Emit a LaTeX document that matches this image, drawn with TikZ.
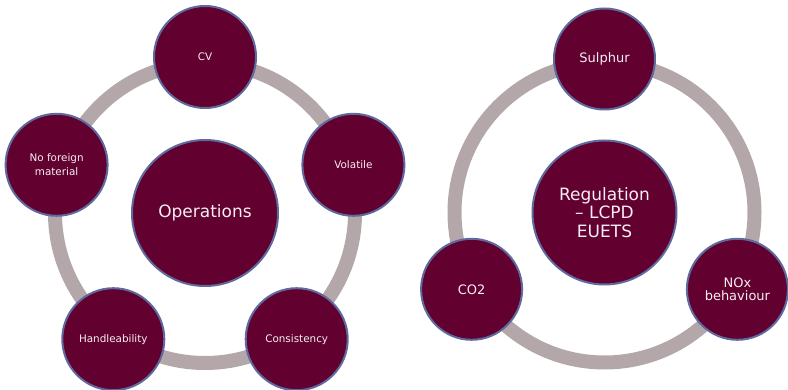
\documentclass[tikz,border=0pt]{standalone}
\usepackage{fontspec}
\setmainfont{DejaVu Sans}
\definecolor{maroonfill}{HTML}{620030}
\definecolor{bluerim}{HTML}{5E6A9E}
\definecolor{ringgrey}{HTML}{B3A7A9}
\definecolor{txtwhite}{HTML}{F6EEF2}
\tikzset{
  ring/.style={draw=ringgrey, line width=14pt},
  bubble/.style={circle, draw=bluerim, line width=2pt, fill=maroonfill, text=txtwhite, inner sep=0pt, align=center},
  smallL/.style={bubble, minimum size=102pt, font=\fontsize{10.4}{14}\selectfont},
  smallR/.style={bubble, minimum size=101pt, font=\fontsize{13}{13.5}\selectfont},
  hub/.style={bubble, font=\fontsize{17}{18.5}\selectfont}
}
\begin{document}
\begin{tikzpicture}[x=1pt,y=-1pt]
\useasboundingbox (0,0) rectangle (788,390);
% left cycle
\coordinate (lc) at (205,213);
\draw[ring] (lc) circle[radius=150];
\node[hub, minimum size=146pt] (ops) at (lc) {Operations};
\node[smallL] (cv) at (205,57) {CV};
\node[smallL] (vol) at (353.4,164.8) {Volatile};
\node[smallL] (con) at (296.7,339.2) {Consistency};
\node[smallL] (han) at (113.3,339.2) {Handleability};
\node[smallL] (nfm) at (56.6,164.8) {No foreign\\material};
% right cycle
\coordinate (rc) at (604.5,212.5);
\draw[ring] (rc) circle[radius=150];
\node[hub, minimum size=144pt] (reg) at (rc) {Regulation\\– LCPD\\EUETS};
\node[smallR] (sul) at (604.5,59) {Sulphur};
\node[smallR] (nox) at (737.4,289.3) {NOx\\behaviour};
\node[smallR] (co2) at (471.6,289.3) {CO2};
\end{tikzpicture}
\end{document}
